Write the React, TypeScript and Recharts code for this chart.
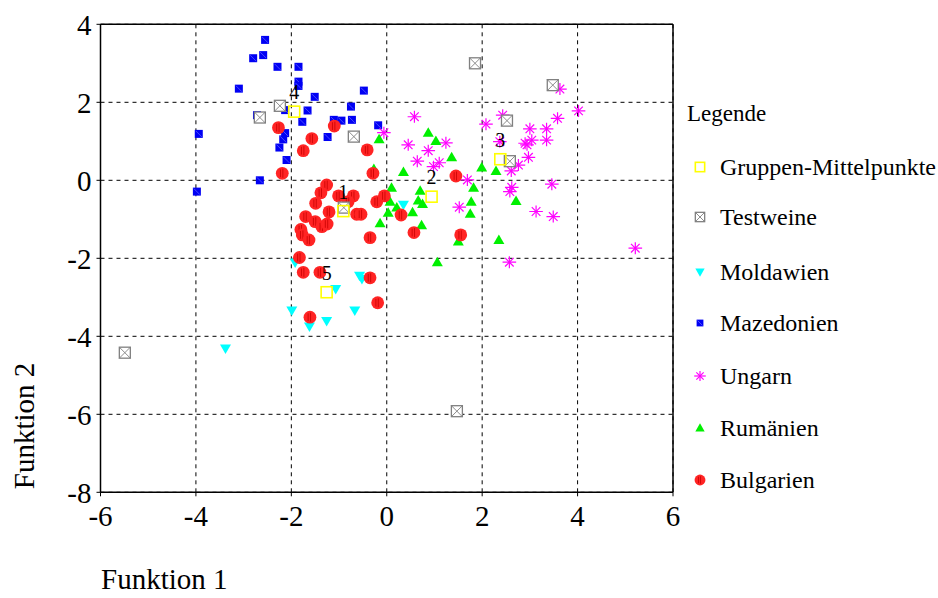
import React from 'react';
import { ScatterChart, Scatter, XAxis, YAxis, CartesianGrid, ReferenceLine } from 'recharts';

const xTicks = [-6, -4, -2, 0, 2, 4, 6];
const yTicks = [-8, -6, -4, -2, 0, 2, 4];

const xTitle = 'Funktion 1';
const yTitle = 'Funktion 2';
const legendTitle = 'Legende';
const legendNames = ['Gruppen-Mittelpunkte', 'Testweine', 'Moldawien', 'Mazedonien', 'Ungarn', 'Rumänien', 'Bulgarien'];

const bulgarienX = [-2.27, -1.10, -1.57, -1.75, -0.41, -2.19, -0.29, -1.26, -1.38, -1.01, -0.70, -0.81, -1.49, -1.21, -0.63, -0.54, -1.70, -1.50, -1.36, -1.25, -1.80, -1.77, -1.63, -0.35, -0.21, -0.05, 0.30, 0.57, 1.45, 1.55, -1.83, -1.75, -1.40, -0.35, -0.19, -1.61];
const bulgarienY = [1.35, 1.39, 1.07, 0.76, 0.78, 0.18, 0.18, -0.12, -0.32, -0.40, -0.40, -0.55, -0.59, -0.81, -0.87, -0.87, -0.93, -1.06, -1.19, -1.12, -1.26, -1.40, -1.53, -1.47, -0.55, -0.40, -0.89, -1.34, 0.11, -1.40, -1.98, -2.36, -2.36, -2.50, -3.14, -3.51];

const rumaenienX = [-0.16, 0.87, 1.03, 1.36, 0.35, -0.27, 1.99, 2.29, 0.10, 0.70, 1.82, 0.07, 0.21, 0.66, 0.75, 0.54, 0.03, -0.14, 1.77, 1.75, 0.73, 1.50, 1.06, 2.35, 2.71];
const rumaenienY = [1.05, 1.22, 1.01, 0.59, 0.21, 0.29, 0.33, 0.24, -0.19, -0.27, -0.19, -0.55, -0.70, -0.52, -0.61, -0.82, -0.83, -1.10, -0.55, -0.86, -1.15, -1.57, -2.10, -1.53, -0.53];

const ungarnX = [0.58, -0.06, 0.45, 0.87, 1.24, 0.64, 0.98, 1.10, 1.69, 1.52, 2.08, 2.43, 3.58, 4.02, 3.63, 3.00, 3.35, 2.94, 3.04, 3.35, 2.97, 2.76, 2.61, 2.62, 2.58, 3.46, 3.13, 3.49, 2.57, 5.21, 2.37, 2.90];
const ungarnY = [1.63, 1.22, 0.91, 0.76, 0.96, 0.49, 0.35, 0.45, 0.01, -0.69, 1.44, 1.67, 1.59, 1.78, 2.34, 1.32, 1.32, 0.91, 1.03, 1.03, 0.59, 0.39, 0.24, -0.18, -0.29, -0.10, -0.80, -0.93, -2.10, -1.74, 0.99, 0.95];

const mazedonienX = [-2.55, -2.80, -2.59, -2.29, -1.85, -1.85, -1.85, -3.10, -1.51, -0.48, -2.13, -1.66, -2.72, -1.77, -0.75, -1.11, -0.95, -0.73, -0.18, -3.94, -2.13, -2.17, -2.25, -1.24, -2.10, -2.66, -3.98];
const mazedonienY = [3.60, 3.13, 3.21, 2.91, 2.91, 2.53, 2.42, 2.35, 2.14, 2.30, 1.80, 1.79, 1.67, 1.50, 1.89, 1.55, 1.53, 1.55, 1.41, 1.19, 1.21, 1.05, 0.84, 1.11, 0.52, 0.00, -0.29];

const moldawienX = [-0.57, -0.52, -1.07, -1.99, -1.62, -1.26, -0.67, 0.35, -3.38, -1.92];
const moldawienY = [-2.45, -2.53, -2.79, -3.34, -3.75, -3.61, -3.34, -0.63, -4.31, -2.11];

const testweineX = [-2.24, -2.66, -0.69, -0.90, 1.85, 3.48, 2.52, 2.58, -5.49, 1.47];
const testweineY = [1.91, 1.61, 1.12, -0.70, 3.00, 2.44, 1.53, 0.49, -4.42, -5.92];

const gruppenX = [-0.91, 0.94, 2.38, -1.94, -1.26];
const gruppenY = [-0.79, -0.42, 0.54, 1.76, -2.87];
const gruppenLabels = ['1', '2', '3', '4', '5'];

const zip = (xs: number[], ys: number[], labels?: string[]) =>
  xs.map((x, i) => ({ x, y: ys[i], label: labels ? labels[i] : '' }));

const FONT = "'Liberation Serif', 'Times New Roman', serif";

type P = { cx?: number; cy?: number; payload?: any; k?: number };

function BulgShape({ cx = 0, cy = 0, k = 1 }: P) {
  const r = 6.4 * k;
  return (
    <g>
      <circle cx={cx} cy={cy} r={r} fill="#ff2424" />
      <line x1={cx - 1.8 * k} y1={cy - r * 0.6} x2={cx - 1.8 * k} y2={cy + r * 0.6} stroke="#c80000" strokeWidth={0.8} />
      <line x1={cx + 0.6 * k} y1={cy - r * 0.7} x2={cx + 0.6 * k} y2={cy + r * 0.7} stroke="#c80000" strokeWidth={0.8} />
    </g>
  );
}

function MazShape({ cx = 0, cy = 0, k = 1 }: P) {
  const h = 4 * k;
  return (
    <g>
      <rect x={cx - h} y={cy - h} width={2 * h} height={2 * h} fill="#0000f4" />
      <line x1={cx - h + 1} y1={cy - h + 1} x2={cx + h - 1} y2={cy + h - 1} stroke="#5a5aff" strokeWidth={0.8} />
    </g>
  );
}

function UngShape({ cx = 0, cy = 0, k = 1 }: P) {
  const a = 6.8 * k;
  const v = 6 * k;
  const d = 4.3 * k;
  return (
    <g stroke="#ff00ff" strokeWidth={1.2}>
      <line x1={cx - a} y1={cy} x2={cx + a} y2={cy} />
      <line x1={cx} y1={cy - v} x2={cx} y2={cy + v} />
      <line x1={cx - d} y1={cy - d} x2={cx + d} y2={cy + d} />
      <line x1={cx - d} y1={cy + d} x2={cx + d} y2={cy - d} />
    </g>
  );
}

function RumShape({ cx = 0, cy = 0, k = 1 }: P) {
  const w = 5.5 * k;
  return <polygon points={`${cx},${cy - 5.5 * k} ${cx - w},${cy + 4 * k} ${cx + w},${cy + 4 * k}`} fill="#00f000" />;
}

function MolShape({ cx = 0, cy = 0, k = 1 }: P) {
  const w = 5.5 * k;
  return <polygon points={`${cx - w},${cy - 4 * k} ${cx + w},${cy - 4 * k} ${cx},${cy + 5.5 * k}`} fill="#00ffff" />;
}

function TestShape({ cx = 0, cy = 0, k = 1 }: P) {
  const h = 5.5 * k;
  return (
    <g stroke="#808080" strokeWidth={1.3}>
      <rect x={cx - h} y={cy - h} width={2 * h} height={2 * h} fill="#ffffff" />
      <line x1={cx - h} y1={cy - h} x2={cx + h} y2={cy + h} strokeWidth={0.9} />
      <line x1={cx - h} y1={cy + h} x2={cx + h} y2={cy - h} strokeWidth={0.9} />
    </g>
  );
}

function GrpShape({ cx = 0, cy = 0, k = 1, payload }: P) {
  const h = 5.5 * k;
  return (
    <g>
      <rect x={cx - h} y={cy - h} width={2 * h} height={2 * h} fill="none" stroke="#ffff00" strokeWidth={1.6} />
      {payload && payload.label ? (
        <text x={cx} y={cy - 12.5} textAnchor="middle" fontFamily={FONT} fontSize={20} fill="#000">
          {payload.label}
        </text>
      ) : null}
    </g>
  );
}

const legendShapes = [GrpShape, TestShape, MolShape, MazShape, UngShape, RumShape, BulgShape];
const legendY = [167, 217, 272, 323, 376, 428, 480];

const tickStyle = { fontFamily: FONT, fontSize: 29, fill: '#000' };

export default function App() {
  return (
    <div style={{ position: 'absolute', left: 0, top: 0, width: 938, height: 598, background: '#fff', fontFamily: FONT }}>
      <ScatterChart width={938} height={598} margin={{ top: 24.3, right: 265, bottom: 65.7, left: 40.5 }}>
        <CartesianGrid strokeDasharray="4 4" stroke="#000" strokeWidth={1} />
        <XAxis
          type="number"
          dataKey="x"
          domain={[-6, 6]}
          ticks={xTicks}
          height={40}
          tick={tickStyle}
          tickSize={4}
          tickMargin={9}
          axisLine={{ stroke: '#000', strokeWidth: 1.5 }}
          tickLine={{ stroke: '#000' }}
          allowDataOverflow
        />
        <YAxis
          type="number"
          dataKey="y"
          domain={[-8, 4]}
          ticks={yTicks}
          width={60}
          tick={tickStyle}
          tickSize={4}
          tickMargin={5}
          axisLine={{ stroke: '#000', strokeWidth: 1.5 }}
          tickLine={{ stroke: '#000' }}
          allowDataOverflow
        />
        <ReferenceLine y={4} stroke="#000" strokeWidth={1.5} />
        <ReferenceLine x={6} stroke="#000" strokeWidth={1.5} />
        <Scatter name="Mazedonien" data={zip(mazedonienX, mazedonienY)} shape={MazShape as any} isAnimationActive={false} />
        <Scatter name="Ungarn" data={zip(ungarnX, ungarnY)} shape={UngShape as any} isAnimationActive={false} />
        <Scatter name="Rumänien" data={zip(rumaenienX, rumaenienY)} shape={RumShape as any} isAnimationActive={false} />
        <Scatter name="Moldawien" data={zip(moldawienX, moldawienY)} shape={MolShape as any} isAnimationActive={false} />
        <Scatter name="Bulgarien" data={zip(bulgarienX, bulgarienY)} shape={BulgShape as any} isAnimationActive={false} />
        <Scatter name="Testweine" data={zip(testweineX, testweineY)} shape={TestShape as any} isAnimationActive={false} />
        <Scatter name="Gruppen-Mittelpunkte" data={zip(gruppenX, gruppenY, gruppenLabels)} shape={GrpShape as any} isAnimationActive={false} />
      </ScatterChart>
      <svg width={938} height={598} style={{ position: 'absolute', left: 0, top: 0, pointerEvents: 'none' }}>
        <text x={101} y={589} fontFamily={FONT} fontSize={29} fill="#000">{xTitle}</text>
        <text x={34} y={426} fontFamily={FONT} fontSize={29} fill="#000" textAnchor="middle" transform="rotate(-90, 34, 426)">
          {yTitle}
        </text>
        <text x={687} y={121} fontFamily={FONT} fontSize={23} fill="#000">{legendTitle}</text>
        {legendNames.map((name, i) => {
          const Shape = legendShapes[i];
          return (
            <g key={name}>
              <Shape cx={700} cy={legendY[i]} k={0.85} />
              <text x={720} y={legendY[i] + 8} fontFamily={FONT} fontSize={24} fill="#000">{name}</text>
            </g>
          );
        })}
      </svg>
    </div>
  );
}
